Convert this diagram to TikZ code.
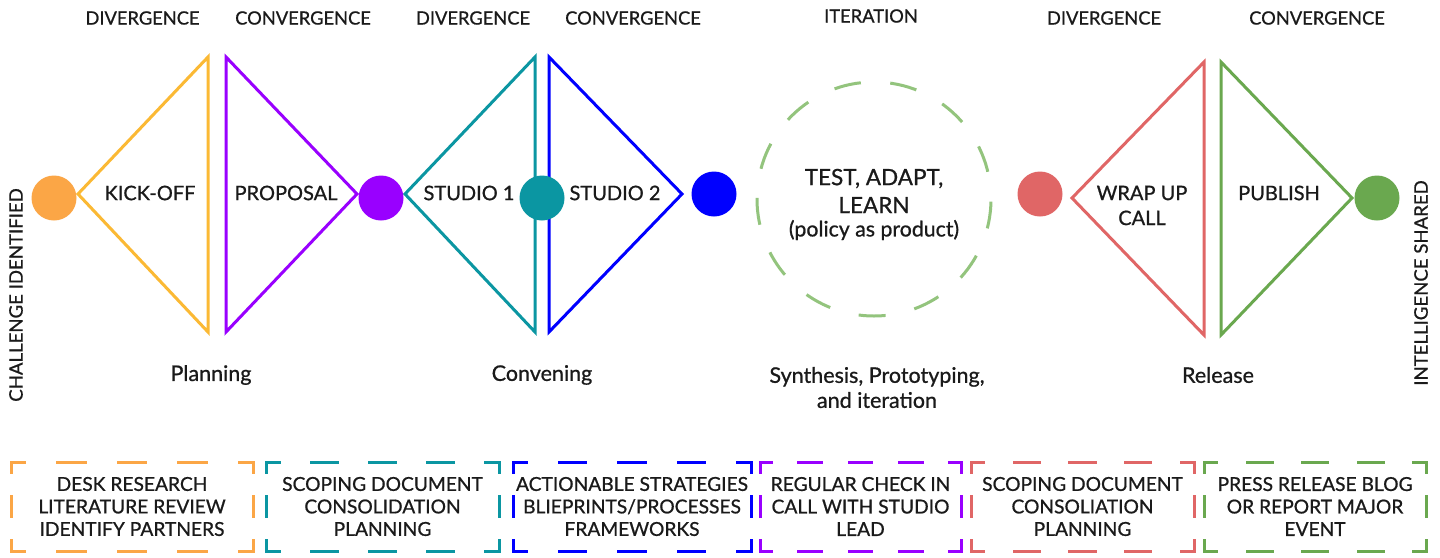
\documentclass[tikz,border=0pt]{standalone}
\usepackage{fontspec}
\setmainfont{Lato}[BoldFont=Lato,BoldFeatures={FakeBold=0.8}]
\definecolor{cOr}{HTML}{FBA646}
\definecolor{cOrT}{HTML}{FBB934}
\definecolor{cPu}{HTML}{9900FF}
\definecolor{cTe}{HTML}{0B96A2}
\definecolor{cBl}{HTML}{0000FF}
\definecolor{cRe}{HTML}{E06666}
\definecolor{cGr}{HTML}{6AA84F}
\definecolor{cLg}{HTML}{93C47D}
\definecolor{ink}{HTML}{1A1A1A}
\newcommand\dframe[4]{%
  \pgfmathsetmacro\hper{#3/4}\pgfmathsetmacro\hon{0.45*\hper}%
  \pgfmathsetmacro\hoff{\hper-\hon}\pgfmathsetmacro\hph{\hon/2}%
  \pgfmathsetmacro\vper{#4/2}\pgfmathsetmacro\von{0.45*\vper}%
  \pgfmathsetmacro\voff{\vper-\von}\pgfmathsetmacro\vph{\von/2}%
  \draw[frameline,#2,dash pattern=on \hon pt off \hoff pt,dash phase=\hph pt]
    (#1.north west) -- (#1.north east) (#1.south west) -- (#1.south east);
  \draw[frameline,#2,dash pattern=on \von pt off \voff pt,dash phase=\vph pt]
    (#1.north west) -- (#1.south west) (#1.north east) -- (#1.south east);
}
\begin{document}
\begin{tikzpicture}[x=1pt,y=-1pt,
  tri/.style={line width=3pt,line join=miter},
  dot/.style={circle,minimum size=45pt,inner sep=0pt,outer sep=0pt},
  toplbl/.style={text=ink,font=\bfseries\fontsize{18.3}{20}\selectfont},
  inlbl/.style={text=ink,font=\bfseries\fontsize{20}{25}\selectfont,align=center},
  botlbl/.style={text=ink,font=\bfseries\fontsize{21.5}{25}\selectfont,align=center},
  sidelbl/.style={text=ink,font=\bfseries\fontsize{18.6}{22}\selectfont,rotate=90},
  dbox/.style={rectangle,inner sep=0pt,outer sep=0pt,minimum height=89pt,
    text=ink,font=\bfseries\fontsize{19.2}{22.5}\selectfont,align=center},
  frameline/.style={line width=3pt,line cap=rect}]
\useasboundingbox[fill=white] (0,0) rectangle (1440,557);

% triangles
\coordinate (o1) at (78,194);  \coordinate (o2) at (208,57);  \coordinate (o3) at (208,332);
\coordinate (p1) at (226,57);  \coordinate (p2) at (357,194); \coordinate (p3) at (226,332);
\coordinate (t1) at (405,194); \coordinate (t2) at (535,57);  \coordinate (t3) at (535,332);
\coordinate (u1) at (549,57);  \coordinate (u2) at (682,194); \coordinate (u3) at (549,332);
\coordinate (r1) at (1072,198); \coordinate (r2) at (1204,62); \coordinate (r3) at (1204,335);
\coordinate (g1) at (1221,62); \coordinate (g2) at (1352,198); \coordinate (g3) at (1221,335);
\draw[tri,cOrT] (o1) -- (o2) -- (o3) -- cycle;
\draw[tri,cPu] (p1) -- (p2) -- (p3) -- cycle;
\draw[tri,cTe] (t1) -- (t2) -- (t3) -- cycle;
\draw[tri,cBl] (u1) -- (u2) -- (u3) -- cycle;
\draw[tri,cRe] (r1) -- (r2) -- (r3) -- cycle;
\draw[tri,cGr] (g1) -- (g2) -- (g3) -- cycle;

% dots
\node[dot,fill=cOr] (d1) at (54,198) {};
\node[dot,fill=cPu] (d2) at (381,198) {};
\node[dot,fill=cTe] (d3) at (542,198) {};
\node[dot,fill=cBl] (d4) at (714,194) {};
\node[dot,fill=cRe] (d5) at (1040,194) {};
\node[dot,fill=cGr] (d6) at (1377,198) {};

% iteration circle
\node[circle,minimum size=234pt,inner sep=0pt,draw=cLg,line width=3pt,
  dash pattern=on 27pt off 29.5pt,dash phase=29pt] (iter) at (874,199) {};

% top labels
\node[toplbl] (l1) at (142.5,18) {DIVERGENCE};
\node[toplbl] (l2) at (303,18) {CONVERGENCE};
\node[toplbl] (l3) at (473,18) {DIVERGENCE};
\node[toplbl] (l4) at (633,18) {CONVERGENCE};
\node[toplbl] (l5) at (871,16) {ITERATION};
\node[toplbl] (l6) at (1104,18) {DIVERGENCE};
\node[toplbl] (l7) at (1317,18) {CONVERGENCE};

% inner labels
\node[inlbl] (k1) at (150,193) {KICK-OFF};
\node[inlbl] (k2) at (286,193) {PROPOSAL};
\node[inlbl] (k3) at (469,193) {STUDIO 1};
\node[inlbl] (k4) at (615,193) {STUDIO 2};
\node[inlbl] (k5) at (1142,205.5) {WRAP UP\\CALL};
\node[inlbl] (k6) at (1279,193) {PUBLISH};
\node[inlbl,font=\bfseries\fontsize{22.5}{28}\selectfont] (k7) at (874,191) {TEST, ADAPT,\\LEARN};
\node[inlbl,font=\bfseries\fontsize{21.3}{22}\selectfont] (k8) at (874,230) {(policy as product)};

% bottom labels
\node[botlbl] (b1) at (211,375) {Planning};
\node[botlbl] (b2) at (542,375) {Convening};
\node[botlbl] (b3) at (877,387.5) {Synthesis, Prototyping,\\and iteration};
\node[botlbl] (b4) at (1218,375) {Release};

% side labels
\node[sidelbl] (s1) at (16,295) {CHALLENGE IDENTIFIED};
\node[sidelbl] (s2) at (1421,283) {INTELLIGENCE SHARED};

% boxes
\node[dbox,minimum width=242pt] (x1) at (132,506.5) {DESK RESEARCH\\LITERATURE REVIEW\\IDENTIFY PARTNERS};
\node[dbox,minimum width=233pt] (x2) at (382.5,506.5) {SCOPING DOCUMENT\\CONSOLIDATION\\PLANNING};
\node[dbox,minimum width=238pt] (x3) at (632,506.5) {ACTIONABLE STRATEGIES\\BLIEPRINTS/PROCESSES\\FRAMEWORKS};
\node[dbox,minimum width=201pt] (x4) at (860.5,506.5) {REGULAR CHECK IN\\CALL WITH STUDIO\\LEAD};
\node[dbox,minimum width=223pt] (x5) at (1082.5,506.5) {SCOPING DOCUMENT\\CONSOLIATION\\PLANNING};
\node[dbox,minimum width=222pt] (x6) at (1315,506.5) {PRESS RELEASE BLOG\\OR REPORT MAJOR\\EVENT};
\dframe{x1}{cOr}{242}{89}
\dframe{x2}{cTe}{233}{89}
\dframe{x3}{cBl}{238}{89}
\dframe{x4}{cPu}{201}{89}
\dframe{x5}{cRe}{223}{89}
\dframe{x6}{cGr}{222}{89}
\end{tikzpicture}
\end{document}
